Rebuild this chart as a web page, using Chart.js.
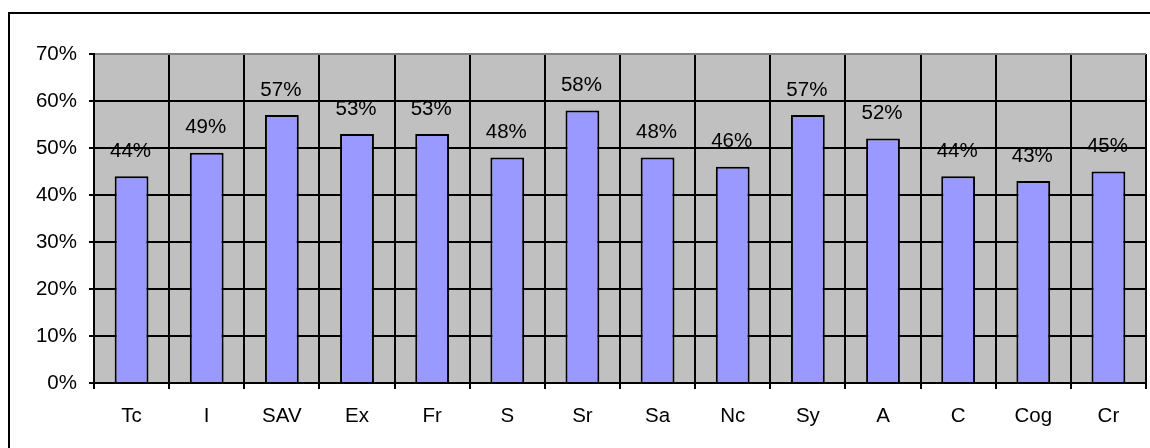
<!DOCTYPE html>
<html>
<head>
<meta charset="utf-8">
<script src="https://cdn.jsdelivr.net/npm/chart.js@4"></script>
<style>
html,body{margin:0;padding:0;background:#fff;}
#wrap{position:relative;width:1150px;height:448px;}
</style>
</head>
<body>
<div id="wrap"><canvas id="c" width="1150" height="448"></canvas></div>
<script>
const categories = ['Tc','I','SAV','Ex','Fr','S','Sr','Sa','Nc','Sy','A','C','Cog','Cr'];
const values = [44,49,57,53,53,48,58,48,46,57,52,44,43,45];
const yTicks = [0,10,20,30,40,50,60,70];

const FONT = '"Liberation Sans", Arial, sans-serif';

const frame = {
  id:'frame',
  beforeDraw(chart){
    const ctx = chart.ctx;
    ctx.save();
    ctx.fillStyle='#fff';
    ctx.fillRect(0,0,chart.width,chart.height);
    ctx.strokeStyle='#000';
    ctx.lineWidth=2;
    ctx.strokeRect(9,13,1160,460);
    const a = chart.chartArea;
    ctx.fillStyle='#C0C0C0';
    ctx.fillRect(a.left,a.top,a.right-a.left,a.bottom-a.top);
    ctx.restore();
  }
};

const valueLabels = {
  id:'valueLabels',
  afterDatasetsDraw(chart){
    const ctx = chart.ctx;
    const meta = chart.getDatasetMeta(0);
    ctx.save();
    ctx.font = '20.5px ' + FONT;
    ctx.fillStyle = '#000';
    ctx.textAlign = 'center';
    ctx.textBaseline = 'middle';
    meta.data.forEach((bar,i)=>{
      ctx.fillText(values[i] + '%', bar.x - 1, bar.y - 25);
    });
    ctx.restore();
  }
};

new Chart(document.getElementById('c'), {
  type:'bar',
  data:{
    labels:categories,
    datasets:[{
      data:values,
      backgroundColor:'#9999FF',
      borderColor:'#000',
      borderWidth:2,
      categoryPercentage:0.45,
      barPercentage:1.0
    }]
  },
  options:{
    responsive:false,
    animation:false,
    devicePixelRatio:1,
    layout:{padding:{left:0,top:54,right:4,bottom:0}},
    plugins:{legend:{display:false},tooltip:{enabled:false}},
    scales:{
      x:{
        offset:true,
        grid:{
          offset:true,
          color:(c)=> (c.index===categories.length ? '#808080' : '#000'),
          lineWidth:2,
          tickLength:6,
          drawTicks:true
        },
        border:{color:'#000',width:2},
        ticks:{font:{family:FONT,size:20.5},color:'#000',padding:15,maxRotation:0,autoSkip:false},
        afterFit(s){ s.height = 65; }
      },
      y:{
        min:0,max:70,
        afterBuildTicks(s){ s.ticks = yTicks.map(v=>({value:v})); },
        grid:{
          color:(c)=> (c.tick && c.tick.value===70 ? '#808080' : '#000'),
          tickColor:'#000',
          lineWidth:2,
          tickLength:5
        },
        border:{color:'#000',width:2},
        ticks:{font:{family:FONT,size:20.5},color:'#000',padding:12,callback:(v)=>v+'%'},
        afterFit(s){ s.width = 94; }
      }
    }
  },
  plugins:[frame,valueLabels]
});
</script>
</body>
</html>
